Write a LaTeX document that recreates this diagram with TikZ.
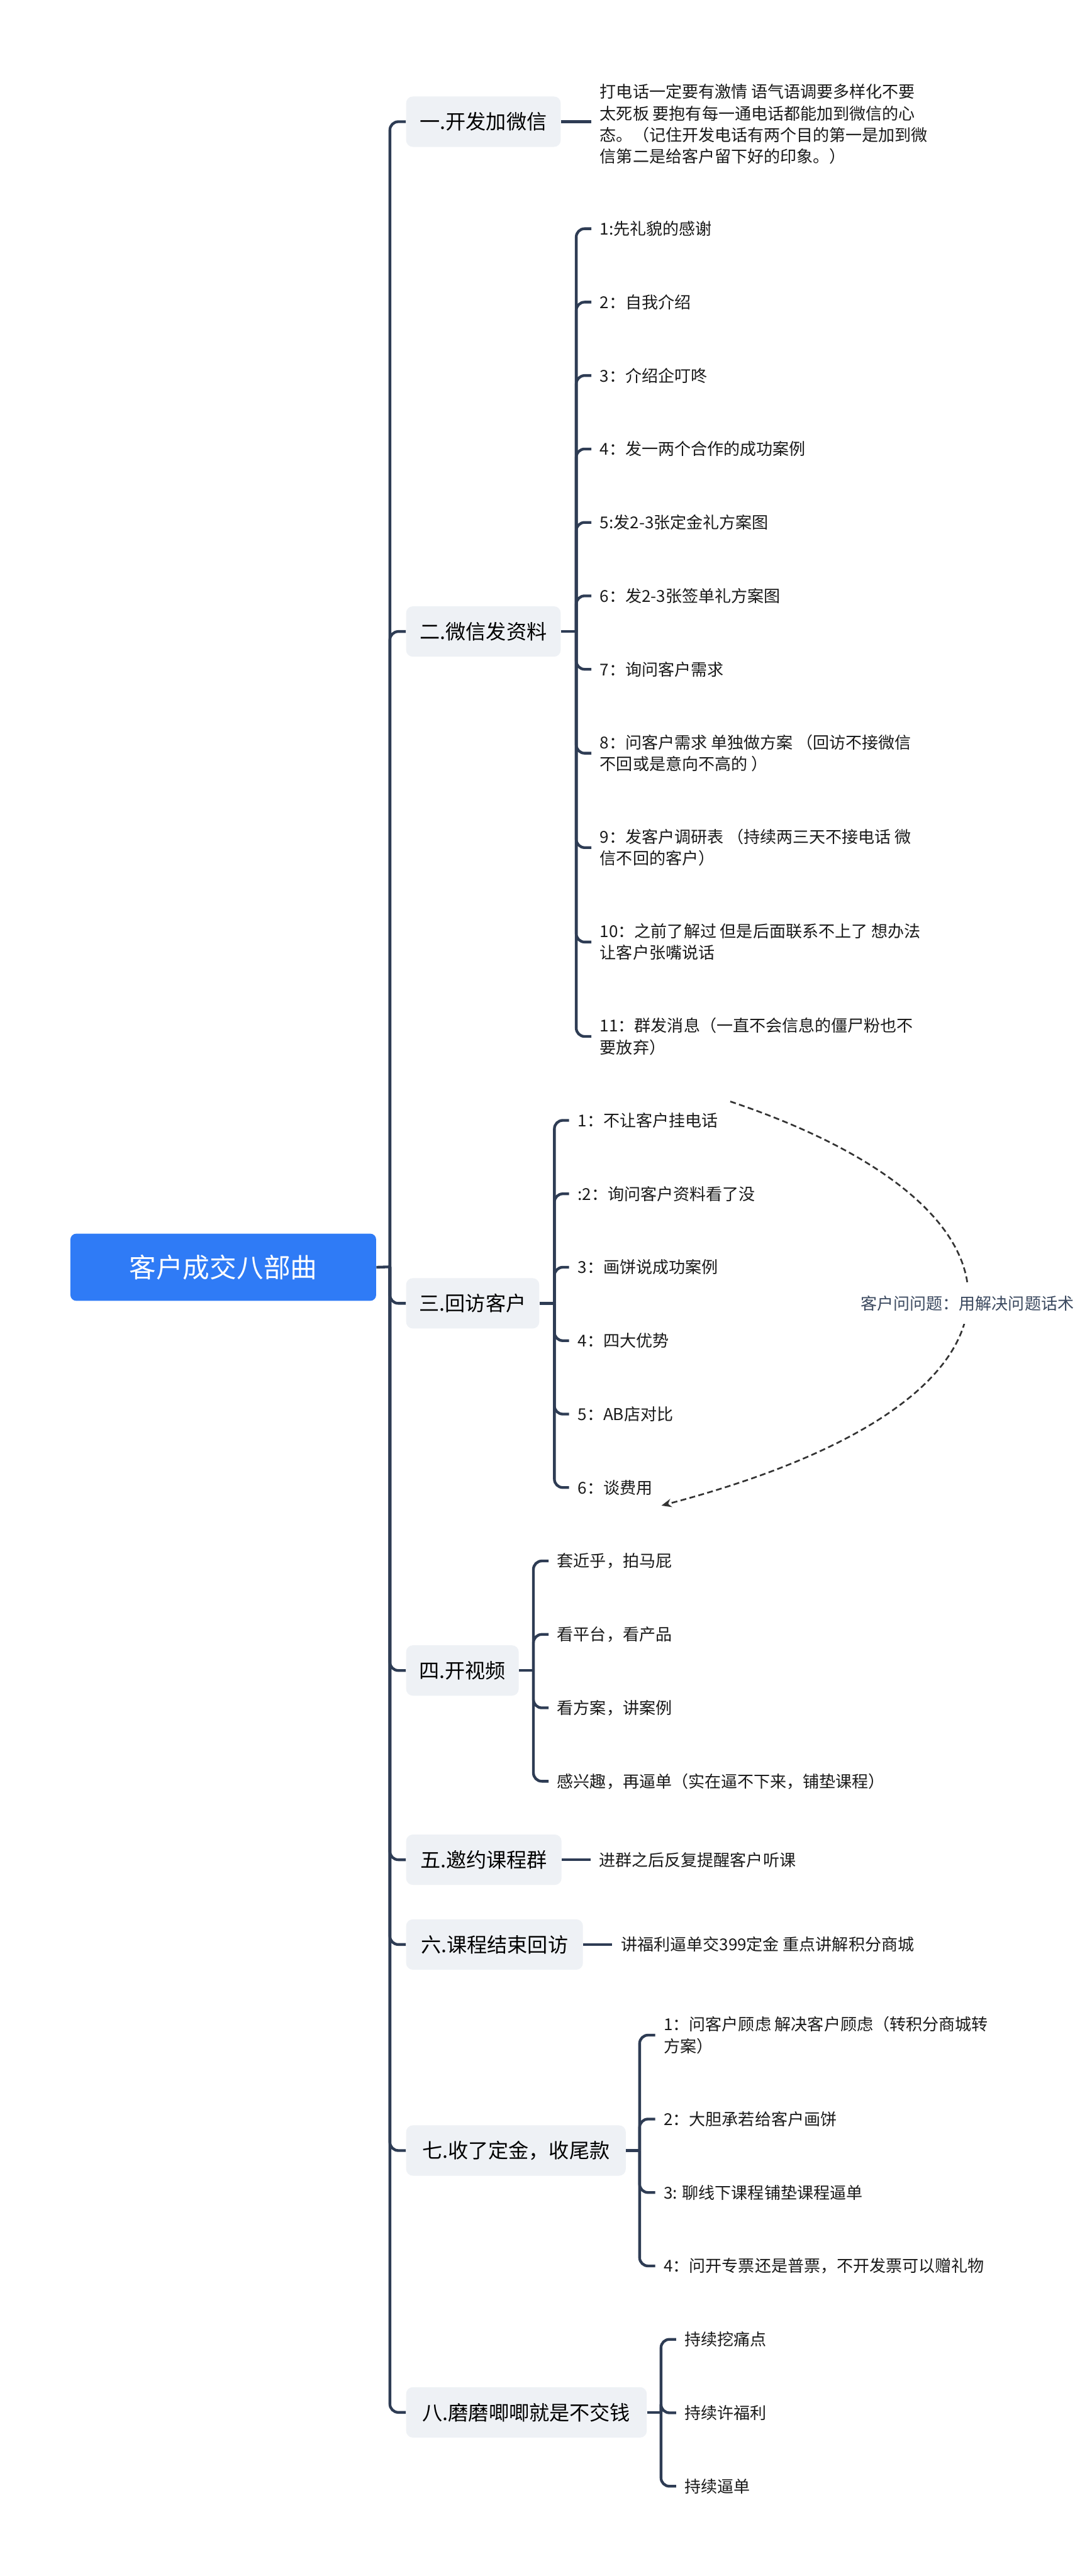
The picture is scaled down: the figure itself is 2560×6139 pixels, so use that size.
\documentclass[tikz,border=0pt]{standalone}
\usepackage{fontspec}
\setmainfont{Noto Sans CJK SC}
\usetikzlibrary{arrows.meta,positioning,calc}

\definecolor{rootblue}{HTML}{2F7BF6}
\definecolor{topicgray}{HTML}{EEF1F5}
\definecolor{linegray}{HTML}{2E3C54}
\definecolor{dashgray}{HTML}{333333}
\definecolor{labelgray}{HTML}{3C4A60}
\definecolor{leaftext}{HTML}{1A1A1A}

\newcommand\mmroot{\fontsize{18.2pt}{22pt}\selectfont}
\newcommand\mmtopic{\fontsize{13.7pt}{16pt}\selectfont}
\newcommand\mmleaf{\fontsize{11.1pt}{14.6pt}\selectfont}

\tikzset{
  root/.style={fill=rootblue, rounded corners=0.14cm, minimum width=7.28cm, minimum height=1.6cm, text=white, font=\mmroot},
  topic/.style={anchor=west, fill=topicgray, rounded corners=0.16cm, minimum height=1.2cm, inner xsep=0.3cm, font=\mmtopic},
  leaf/.style={anchor=west, inner xsep=0.2cm, inner ysep=0pt, align=left, font=\mmleaf, text=leaftext},
  branch/.style={draw=linegray, line width=0.065cm, rounded corners=0.2cm},
  relation/.style={draw=dashgray, line width=0.04cm, dash pattern=on 0.14cm off 0.08cm, -{Stealth[length=0.24cm,width=0.2cm]}},
  relabel/.style={fill=white, text=labelgray, font=\mmleaf, inner xsep=0.04cm, inner ysep=0.3cm}
}

\begin{document}
\begin{tikzpicture}[x=0.01cm, y=-0.01cm]
            \fill[white] (0,0) rectangle (2560,6139);
            \useasboundingbox (0,0) rectangle (2560,6139);

            \node[root] (root) at (532,3020) {客户成交八部曲};
            \coordinate (hub0) at (929,3019);

            % main topics
            \node[topic, minimum width=3.68cm] (t1) at (967,290) {一.开发加微信};
            \node[topic, minimum width=3.68cm] (t2) at (967,1505) {二.微信发资料};
            \node[topic, minimum width=3.17cm] (t3) at (967,3106) {三.回访客户};
            \node[topic, minimum width=2.68cm] (t4) at (967,3981) {四.开视频};
            \node[topic, minimum width=3.70cm] (t5) at (967,4432) {五.邀约课程群};
            \node[topic, minimum width=4.21cm] (t6) at (967,4634) {六.课程结束回访};
            \node[topic, minimum width=5.23cm] (t7) at (967,5125) {七.收了定金，收尾款};
            \node[topic, minimum width=5.73cm] (t8) at (967,5749) {八.磨磨唧唧就是不交钱};

            \draw[branch] (root.east) -- (hub0);
            \foreach \t in {t1,t2,t3,t4,t5,t6,t7,t8}
                \draw[branch] (hub0) |- (\t.west);

            % 一
            \node[leaf] (l1) at (1409,296) {打电话一定要有激情 语气语调要多样化不要\\太死板 要抱有每一通电话都能加到微信的心\\态。（记住开发电话有两个目的第一是加到微\\信第二是给客户留下好的印象。）};
            \draw[branch] (t1.east) -- (t1.east -| l1.west);

            % 二
            \coordinate (h2) at (1373,1505);
            \node[leaf] (l2a) at (1409,545) {1:先礼貌的感谢};
            \node[leaf] (l2b) at (1409,720) {2：自我介绍};
            \node[leaf] (l2c) at (1409,895) {3：介绍企叮咚};
            \node[leaf] (l2d) at (1409,1070) {4：发一两个合作的成功案例};
            \node[leaf] (l2e) at (1409,1245) {5:发2-3张定金礼方案图};
            \node[leaf] (l2f) at (1409,1420) {6：发2-3张签单礼方案图};
            \node[leaf] (l2g) at (1409,1595) {7：询问客户需求};
            \node[leaf] (l2h) at (1409,1795) {8：问客户需求 单独做方案 （回访不接微信\\不回或是意向不高的 ）};
            \node[leaf] (l2i) at (1409,2020) {9：发客户调研表 （持续两三天不接电话 微\\信不回的客户）};
            \node[leaf] (l2j) at (1409,2245) {10：之前了解过 但是后面联系不上了 想办法\\让客户张嘴说话};
            \node[leaf] (l2k) at (1409,2470) {11：群发消息（一直不会信息的僵尸粉也不\\要放弃）};
            \draw[branch] (t2.east) -- (h2);
            \foreach \l in {l2a,l2b,l2c,l2d,l2e,l2f,l2g,l2h,l2i,l2j,l2k}
                \draw[branch] (h2) |- (\l.west);

            % 三
            \coordinate (h3) at (1321,3106);
            \node[leaf] (l3a) at (1356,2670) {1：不让客户挂电话};
            \node[leaf] (l3b) at (1356,2845) {:2：询问客户资料看了没};
            \node[leaf] (l3c) at (1356,3020) {3：画饼说成功案例};
            \node[leaf] (l3d) at (1356,3195) {4：四大优势};
            \node[leaf] (l3e) at (1356,3370) {5：AB店对比};
            \node[leaf] (l3f) at (1356,3545) {6：谈费用};
            \draw[branch] (t3.east) -- (h3);
            \foreach \l in {l3a,l3b,l3c,l3d,l3e,l3f}
                \draw[branch] (h3) |- (\l.west);

            % 四
            \coordinate (h4) at (1271,3981);
            \node[leaf] (l4a) at (1307,3720) {套近乎，拍马屁};
            \node[leaf] (l4b) at (1307,3895) {看平台，看产品};
            \node[leaf] (l4c) at (1307,4070) {看方案，讲案例};
            \node[leaf] (l4d) at (1307,4245) {感兴趣，再逼单（实在逼不下来，铺垫课程）};
            \draw[branch] (t4.east) -- (h4);
            \foreach \l in {l4a,l4b,l4c,l4d}
                \draw[branch] (h4) |- (\l.west);

            % 五, 六
            \node[leaf] (l5) at (1407,4432) {进群之后反复提醒客户听课};
            \draw[branch] (t5.east) -- (t5.east -| l5.west);
            \node[leaf] (l6) at (1459,4634) {讲福利逼单交399定金 重点讲解积分商城};
            \draw[branch] (t6.east) -- (t6.east -| l6.west);

            % 七
            \coordinate (h7) at (1524,5125);
            \node[leaf] (l7a) at (1561,4850) {1：问客户顾虑 解决客户顾虑（转积分商城转\\方案）};
            \node[leaf] (l7b) at (1561,5050) {2：大胆承若给客户画饼};
            \node[leaf] (l7c) at (1561,5225) {3: 聊线下课程铺垫课程逼单};
            \node[leaf] (l7d) at (1561,5400) {4：问开专票还是普票，不开发票可以赠礼物};
            \draw[branch] (t7.east) -- (h7);
            \foreach \l in {l7a,l7b,l7c,l7d}
                \draw[branch] (h7) |- (\l.west);

            % 八
            \coordinate (h8) at (1575,5749);
            \node[leaf] (l8a) at (1611,5575) {持续挖痛点};
            \node[leaf] (l8b) at (1611,5750) {持续许福利};
            \node[leaf] (l8c) at (1611,5925) {持续逼单};
            \draw[branch] (t8.east) -- (h8);
            \foreach \l in {l8a,l8b,l8c}
                \draw[branch] (h8) |- (\l.west);

            % relation from 1 to 6
            \coordinate (rs) at (1740,2625);
            \coordinate (re) at (1576,3588);
            \draw[relation] (rs) .. controls (2500,2880) and (2541,3334) .. (re)
                node[relabel, pos=0.5] {客户问问题：用解决问题话术};
\end{tikzpicture}
\end{document}
